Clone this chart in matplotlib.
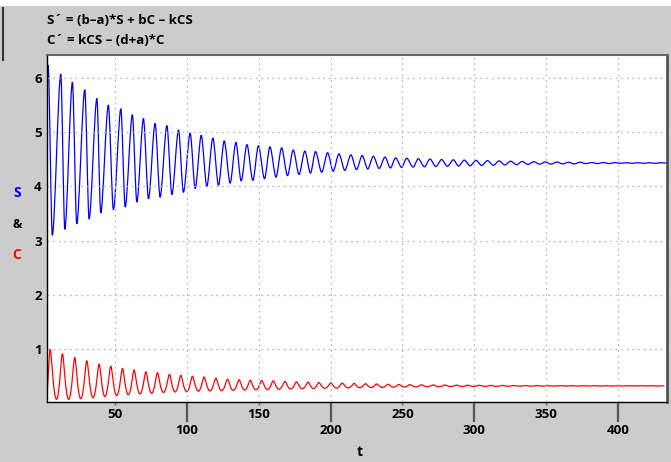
import matplotlib
matplotlib.use("Agg")
import matplotlib.pyplot as plt
from matplotlib.path import Path
from matplotlib.patches import PathPatch
import numpy as np

# values: local maxima / minima of each curve
s_start = (2.6, 5.73)
s_peak_t = [3.5, 12.3, 20.4, 29.0, 37.4, 45.4, 54.1, 62.1, 69.8, 77.9, 86.1, 94.2,
            102.3, 110.0, 118.1, 126.0, 134.1, 141.8, 149.8, 157.8, 165.9, 174.0,
            182.1, 189.5, 197.9, 205.8, 214.1, 222.0, 229.7, 237.8, 245.2, 252.9,
            261.0, 269.1, 277.2, 285.4, 293.0, 301.1, 309.1, 317.2, 325.2, 333.3,
            341.3, 349.4, 357.4, 365.5, 373.5, 381.6, 389.6, 397.7, 405.7, 413.8,
            421.8, 429.9]
s_peak_v = [6.23, 6.07, 5.92, 5.78, 5.62, 5.50, 5.43, 5.32, 5.25, 5.16, 5.12, 5.04,
            4.98, 4.94, 4.89, 4.84, 4.81, 4.77, 4.75, 4.73, 4.71, 4.67,
            4.65, 4.64, 4.62, 4.60, 4.58, 4.57, 4.555, 4.54, 4.525, 4.52,
            4.51, 4.505, 4.495, 4.49, 4.485, 4.48, 4.475, 4.47, 4.465, 4.46,
            4.455, 4.45, 4.45, 4.445, 4.445, 4.44, 4.44, 4.44, 4.437, 4.437,
            4.436, 4.436]
s_trough_t = [6.4, 15.1, 23.4, 32.0, 40.1, 48.9, 57.1, 65.2, 73.3, 81.4, 89.6, 97.6,
              105.8, 113.9, 122.0, 130.1, 137.8, 145.9, 154.0, 162.0, 170.0, 178.0,
              186.0, 193.8, 201.8, 209.9, 218.0, 225.8, 233.8, 241.6, 249.4, 257.4,
              265.3, 273.2, 281.2, 289.0, 297.1, 305.1, 313.2, 321.2, 329.3, 337.3,
              345.4, 353.4, 361.5, 369.5, 377.6, 385.6, 393.7, 401.7, 409.8, 417.8,
              425.9, 433.9]
s_trough_v = [3.10, 3.21, 3.31, 3.40, 3.51, 3.57, 3.62, 3.71, 3.77, 3.80, 3.85, 3.89,
              3.96, 4.00, 4.02, 4.06, 4.10, 4.11, 4.14, 4.17, 4.20, 4.22,
              4.245, 4.26, 4.28, 4.295, 4.31, 4.32, 4.33, 4.34, 4.35, 4.355,
              4.36, 4.365, 4.37, 4.375, 4.38, 4.385, 4.39, 4.395, 4.40, 4.405,
              4.41, 4.41, 4.415, 4.415, 4.42, 4.42, 4.42, 4.425, 4.425, 4.425,
              4.425, 4.43]

c_start = (2.6, 0.13)
c_peak_t = [4.9, 13.4, 22.0, 30.4, 39.0, 47.1, 55.2, 63.3, 71.5, 79.5, 87.9, 95.8,
            103.9, 112.0, 120.2, 128.3, 136.4, 144.1, 152.1, 160.1, 168.2, 176.3,
            184.4, 191.8, 200.2, 208.1, 216.4, 224.3, 232.0, 240.1, 247.5, 255.2,
            263.3, 271.4, 279.5, 287.7, 295.3, 303.4, 311.4, 319.5, 327.5, 335.6,
            343.6, 351.7, 359.7, 367.8, 375.8, 383.9, 391.9, 400.0, 408.0, 416.1,
            424.1, 432.2]
c_peak_v = [1.00, 0.92, 0.85, 0.79, 0.73, 0.69, 0.65, 0.62, 0.585, 0.57, 0.54, 0.52,
            0.505, 0.49, 0.47, 0.45, 0.44, 0.43, 0.425, 0.42, 0.41, 0.40,
            0.395, 0.39, 0.383, 0.378, 0.372, 0.367, 0.362, 0.357, 0.353, 0.35,
            0.347, 0.345, 0.343, 0.341, 0.339, 0.337, 0.336, 0.335, 0.334, 0.333,
            0.333, 0.332, 0.332, 0.331, 0.331, 0.331, 0.330, 0.330, 0.330, 0.330,
            0.330, 0.330]
c_trough_t = [9.3, 17.8, 26.2, 34.7, 43.0, 51.2, 59.3, 67.4, 75.5, 83.7, 91.8, 99.9,
              108.0, 116.1, 124.2, 132.3, 140.2, 148.1, 156.1, 164.1, 172.2, 180.3,
              188.1, 196.0, 204.1, 212.2, 220.3, 228.1, 236.0, 243.8, 251.3, 259.2,
              267.3, 275.4, 283.6, 291.5, 299.3, 307.4, 315.4, 323.5, 331.5, 339.6,
              347.6, 355.7, 363.7, 371.8, 379.8, 387.9, 395.9, 404.0, 412.0, 420.1,
              428.1]
c_trough_v = [0.08, 0.08, 0.09, 0.11, 0.13, 0.15, 0.165, 0.18, 0.19, 0.205, 0.215, 0.22,
              0.23, 0.235, 0.24, 0.245, 0.25, 0.255, 0.26, 0.265, 0.27, 0.275,
              0.278, 0.282, 0.286, 0.29, 0.294, 0.297, 0.30, 0.303, 0.306, 0.309,
              0.311, 0.313, 0.315, 0.317, 0.318, 0.319, 0.320, 0.321, 0.322, 0.322,
              0.323, 0.323, 0.323, 0.324, 0.324, 0.324, 0.324, 0.325, 0.325, 0.325,
              0.325]

x_major = [100, 200, 300, 400]
x_minor = [50, 150, 250, 350]
y_ticks = [1, 2, 3, 4, 5, 6]


def join(start, pt, pv, tt, tv, k_peak, k_trough):
    t = np.array([start[0]] + pt + tt)
    v = np.array([start[1]] + pv + tv)
    k = np.array([0.1] + [k_peak] * len(pt) + [k_trough] * len(tt))
    order = np.argsort(t)
    return t[order], v[order], k[order]


def smooth_line(ax, t, v, k, color):
    # bezier pieces between extrema, flat tangents at each extremum
    verts = [(t[0], v[0])]
    codes = [Path.MOVETO]
    for i in range(len(t) - 1):
        dt = t[i + 1] - t[i]
        verts += [(t[i] + k[i] * dt, v[i]), (t[i + 1] - k[i + 1] * dt, v[i + 1]),
                  (t[i + 1], v[i + 1])]
        codes += [Path.CURVE4] * 3
    ax.add_patch(PathPatch(Path(verts, codes), fill=False, edgecolor=color, lw=0.9))


s_t, s_v, s_k = join(s_start, s_peak_t, s_peak_v, s_trough_t, s_trough_v, 0.3, 0.3)
c_t, c_v, c_k = join(c_start, c_peak_t, c_peak_v, c_trough_t, c_trough_v, 0.22, 0.5)

plt.rcParams['font.family'] = ['Open Sans', 'DejaVu Sans']
plt.rcParams['font.weight'] = 'bold'

fig = plt.figure(figsize=(6.71, 4.62), dpi=100, facecolor='#cccccc')
ax = fig.add_axes([46.7/671, (462-402)/462, (667-46.7)/671, (402-55)/462])

smooth_line(ax, s_t, s_v, s_k, '#0000ff')
smooth_line(ax, c_t, c_v, c_k, '#ff0000')

ax.set_xlim(2.5, 434)
ax.set_ylim(0.03, 6.42)

ax.set_xticks(x_major)
ax.set_xticklabels([str(v) for v in x_major])
ax.set_xticks(x_minor, minor=True)
ax.set_xticklabels([str(v) for v in x_minor], minor=True)
ax.set_yticks(y_ticks)
ax.set_yticklabels([str(v) for v in y_ticks])

ax.tick_params(axis='x', which='major', length=14.5, width=1.6, color='#555555',
               pad=1, labelsize=9.5)
ax.tick_params(axis='x', which='minor', length=2.2, width=1, color='#555555',
               pad=2, labelsize=9.5)
ax.tick_params(axis='y', length=0, pad=3.5, labelsize=9.5)

ax.grid(True, which='both', axis='x', color='#bbbbbb', lw=0.9, ls=(0, (1.5, 3)))
ax.grid(True, which='major', axis='y', color='#bbbbbb', lw=0.9, ls=(0, (1.5, 3)))

for side in ['left', 'bottom']:
    ax.spines[side].set_color('black')
    ax.spines[side].set_linewidth(1)
ax.spines['top'].set_color('#666666')
ax.spines['top'].set_linewidth(1.5)
ax.spines['right'].set_color('#444444')
ax.spines['right'].set_linewidth(1.8)

fig.text(360/671, 1-452/462, 't', ha='center', va='center', fontsize=10, fontweight='bold')
fig.text(17/671, 1-193/462, 'S', color='#0000ff', ha='center', va='center', fontsize=10, fontweight='bold')
fig.text(17/671, 1-224/462, '&', color='black', ha='center', va='center', fontsize=9, fontweight='bold')
fig.text(17/671, 1-255/462, 'C', color='#ff0000', ha='center', va='center', fontsize=10, fontweight='bold')

fig.text(47/671, 1-21/462, 'S\u00b4 = (b\u2013a)*S + bC \u2013 kCS', ha='left', va='center',
         fontsize=9.5, fontweight='bold')
fig.text(47/671, 1-41/462, 'C\u00b4 = kCS \u2013 (d+a)*C', ha='left', va='center',
         fontsize=9.5, fontweight='bold')

# white strip at the very top and the dark edge on the left
fig.patches.append(plt.Rectangle((0, 1-6/462), 1, 6/462, transform=fig.transFigure,
                                 facecolor='white', edgecolor='none'))
fig.lines.append(plt.Line2D([3/671, 3/671], [1-8/462, 1-60/462], transform=fig.transFigure,
                            color='#333333', lw=1.5))

fig.savefig('out.png', dpi=100, facecolor=fig.get_facecolor())
